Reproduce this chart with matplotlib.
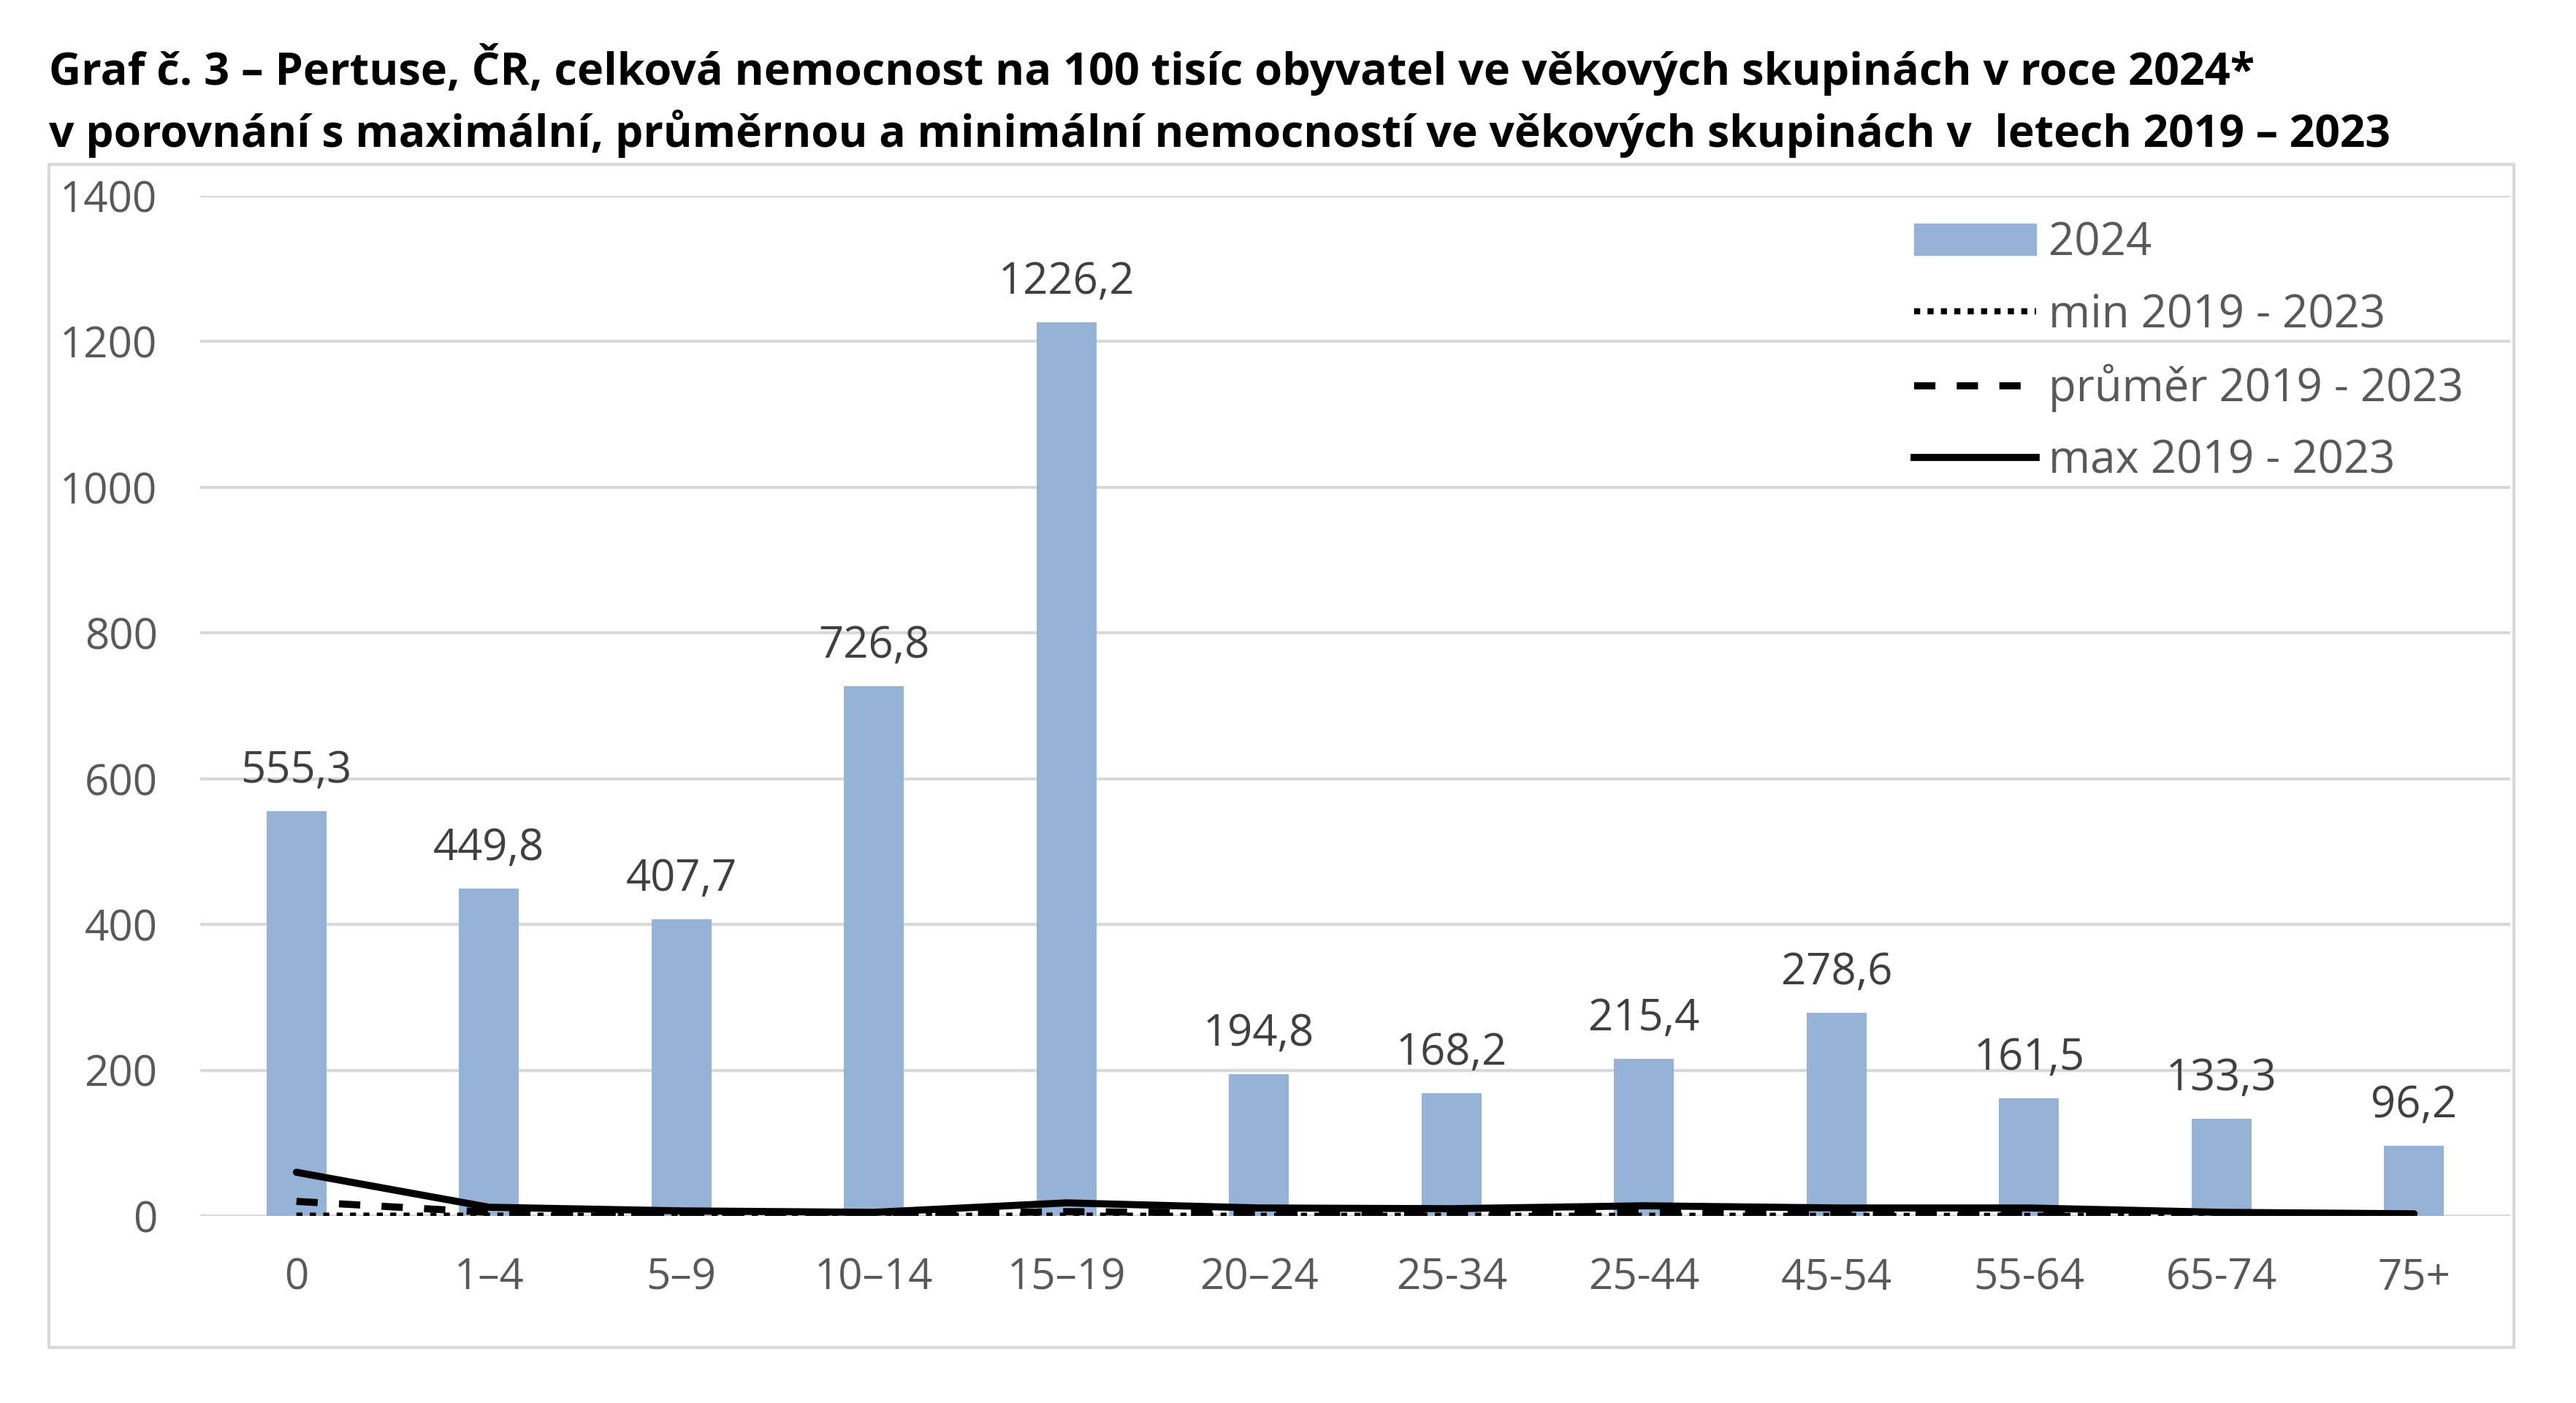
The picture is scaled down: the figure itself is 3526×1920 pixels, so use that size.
import matplotlib
matplotlib.use('Agg')
import matplotlib.pyplot as plt
from matplotlib.patches import Patch, Rectangle
from matplotlib.lines import Line2D

plt.rcParams['font.family'] = ['Open Sans', 'DejaVu Sans']

# data
age_groups = ['0', '1–4', '5–9', '10–14', '15–19', '20–24', '25-34', '25-44',
              '45-54', '55-64', '65-74', '75+']
rate_2024 = [555.3, 449.8, 407.7, 726.8, 1226.2, 194.8, 168.2, 215.4, 278.6, 161.5, 133.3, 96.2]
min_1923 = [0.5, 0.5, 0.3, 0.3, 0.5, 0.3, 0.3, 0.3, 0.3, 0.3, 0.2, 0.2]
avg_1923 = [20, 5, 3, 2, 6, 4, 4, 5, 4, 4, 2, 1]
max_1923 = [60, 12, 7, 5, 18, 11, 10, 14, 11, 11, 5, 3]

bar_color = '#95B3D7'
grid_color = '#D9D9D9'
text_color = '#595959'

fig = plt.figure(figsize=(35.26, 19.2), dpi=100)
ax = fig.add_axes([0.0777, 0.1333, 0.8968, 0.7271])

x = list(range(len(age_groups)))
ax.bar(x, rate_2024, width=0.31, color=bar_color, zorder=2)
ax.plot(x, min_1923, color='black', lw=6, linestyle=(0, (1, 1.2)), zorder=3)
ax.plot(x, avg_1923, color='black', lw=7, linestyle=(0, (3, 3)), zorder=3)
ax.plot(x, max_1923, color='black', lw=7, solid_capstyle='round', zorder=3)

for xi, v in zip(x, rate_2024):
    ax.annotate(f'{v:.1f}'.replace('.', ','), (xi, v), xytext=(0, 18),
                textcoords='offset points', ha='center', va='bottom',
                fontsize=43, color='#404040')

ax.set_xlim(-0.5, len(age_groups) - 0.5)
ax.set_ylim(0, 1400)
ax.set_yticks(range(0, 1401, 200))
ax.set_xticks(x)
ax.set_xticklabels(age_groups)
ax.tick_params(axis='both', length=0, labelsize=42, labelcolor=text_color)
ax.tick_params(axis='x', pad=40)
ax.tick_params(axis='y', pad=42)
ax.grid(axis='y', color=grid_color, lw=3, zorder=0)
for s in ax.spines.values():
    s.set_visible(False)

handles = [Patch(color=bar_color),
           Line2D([], [], color='black', lw=6, linestyle=(0, (1, 1.2))),
           Line2D([], [], color='black', lw=7, linestyle=(0, (3, 3))),
           Line2D([], [], color='black', lw=7)]
labels = ['2024', 'min 2019 - 2023', 'průměr 2019 - 2023', 'max 2019 - 2023']
leg = ax.legend(handles, labels, loc='upper left', bbox_to_anchor=(0.742, 0.976),
                frameon=False, fontsize=44.5, handlelength=2.7, handletextpad=0.27,
                labelspacing=0.58, borderpad=0, borderaxespad=0)
for t in leg.get_texts():
    t.set_color(text_color)

# outer chart border
fig.add_artist(Rectangle((67 / 3526, 1 - 1844 / 1920), (3441 - 67) / 3526, (1844 - 225) / 1920,
                         transform=fig.transFigure, fill=False, edgecolor=grid_color, lw=3))

fig.text(67 / 3526, 1 - 95 / 1920,
         'Graf č. 3 – Pertuse, ČR, celková nemocnost na 100 tisíc obyvatel ve věkových skupinách v roce 2024*',
         fontsize=44, fontweight='bold', va='center', ha='left')
fig.text(67 / 3526, 1 - 183 / 1920,
         'v porovnání s maximální, průměrnou a minimální nemocností ve věkových skupinách v  letech 2019 – 2023',
         fontsize=43.7, fontweight='bold', va='center', ha='left')

fig.savefig('out.png', dpi=100, facecolor='white')
